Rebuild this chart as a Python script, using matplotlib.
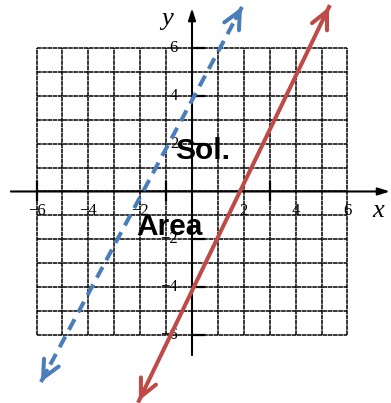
import numpy as np
import matplotlib
matplotlib.use("Agg")
import matplotlib.pyplot as plt

# grid and labels
grid_vals = np.arange(-6, 7)
x_tick_vals = [-6, -4, -2, 2, 4, 6]
y_tick_vals = [-6, -4, -2, 2, 4, 6]
x_axis_marks = [-6, -1, 3]
y_axis_marks = [-6, -4, -2, 2, 4, 6]

# boundary lines (tip to tip)
blue_x = [-5.83, 1.93]
blue_y = [-7.99, 7.74]
red_x = [-2.05, 5.29]
red_y = [-8.78, 7.74]

blue = "#4a7ebb"
red = "#be4b48"

fig = plt.figure(figsize=(3.91, 4.03), dpi=100)
ax = fig.add_axes([0, 0, 1, 1])
ax.set_xlim(-7.41, 7.68)
ax.set_ylim(-8.87, 8.03)
ax.axis("off")

# grid
for g in grid_vals:
    ax.plot([g, g], [-6, 6], color="black", lw=1.1, ls=(0, (3, 0.4)), zorder=1)
    ax.plot([-6, 6], [g, g], color="black", lw=1.1, ls=(0, (3, 0.4)), zorder=1)

# axes with arrows
ax.annotate("", xy=(7.64, 0), xytext=(-6.99, 0),
            arrowprops=dict(arrowstyle="-|>,head_length=0.7,head_width=0.22",
                            color="black", lw=1.5, shrinkA=0, shrinkB=0), zorder=3)
ax.annotate("", xy=(0, 7.69), xytext=(0, -6.86),
            arrowprops=dict(arrowstyle="-|>,head_length=0.7,head_width=0.22",
                            color="black", lw=1.5, shrinkA=0, shrinkB=0), zorder=3)

for m in y_axis_marks:
    ax.plot([0, 0.45], [m, m], color="black", lw=1.6, zorder=3)
for m in x_axis_marks:
    ax.plot([m, m], [-0.35, 0.4], color="black", lw=1.6, zorder=3)

# tick labels
serif = "Liberation Serif"
for v in x_tick_vals:
    ax.text(v, -0.8, str(v).replace("-", "\u2212"), ha="center", va="center",
            fontsize=12, family=serif, zorder=4)
for v in y_tick_vals:
    ax.text(-0.54, v, str(v).replace("-", "\u2212"), ha="right", va="center",
            fontsize=12, family=serif, zorder=4)

ax.text(7.2, -0.8, "x", ha="center", va="center", fontsize=19,
        family=serif, style="italic", zorder=4)
ax.text(-0.95, 7.25, "y", ha="center", va="center", fontsize=19,
        family=serif, style="italic", zorder=4)


def draw_line(xs, ys, color, dashed):
    if dashed:
        ax.plot(xs, ys, color=color, lw=2.9, ls=(0, (3, 1.9)),
                solid_capstyle="butt", zorder=5)
    else:
        ax.plot(xs, ys, color=color, lw=2.9, zorder=5)
    dx = xs[1] - xs[0]
    dy = ys[1] - ys[0]
    for i, s in [(1, 1), (0, -1)]:
        tip = (xs[i], ys[i])
        back = (xs[i] - s * 0.03 * dx, ys[i] - s * 0.03 * dy)
        ax.annotate("", xy=tip, xytext=back,
                    arrowprops=dict(arrowstyle="->,head_length=1.25,head_width=0.6",
                                    color=color, lw=2.9, shrinkA=0, shrinkB=0),
                    zorder=5)


draw_line(blue_x, blue_y, blue, True)
draw_line(red_x, red_y, red, False)

ax.text(0.41, 1.36, "Sol.", ha="center", va="baseline", fontsize=21.5,
        family="Liberation Sans", weight="bold", zorder=6)
ax.text(-0.87, -1.82, "Area", ha="center", va="baseline", fontsize=21.5,
        family="Liberation Sans", weight="bold", zorder=6)

fig.savefig("out.png", dpi=100)
